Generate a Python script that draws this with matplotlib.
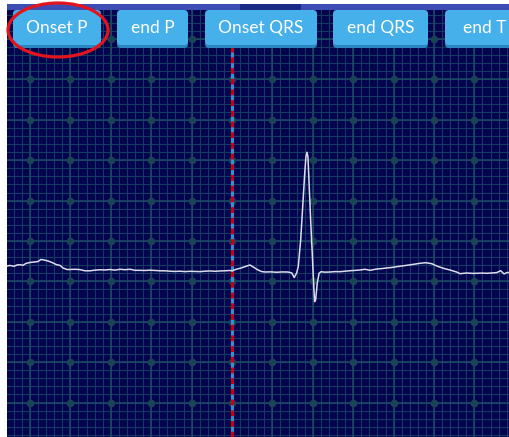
import matplotlib
matplotlib.use("Agg")
import matplotlib.pyplot as plt
from matplotlib.patches import FancyBboxPatch, Ellipse, Rectangle
import numpy as np

# ---- ECG data (time in s, amplitude in mV) ----
time_s = [-0.114, -0.099, -0.079, -0.064, -0.050, -0.035, -0.020, 0.000, 0.020, 0.040,
          0.054, 0.069, 0.089, 0.109, 0.129, 0.149, 0.163, 0.183, 0.198, 0.223,
          0.248, 0.272, 0.297, 0.322, 0.347, 0.371, 0.396, 0.421, 0.446, 0.470,
          0.495, 0.520, 0.545, 0.569, 0.594, 0.619, 0.644, 0.668, 0.693, 0.718,
          0.743, 0.767, 0.792, 0.817, 0.842, 0.866, 0.891, 0.916, 0.941, 0.965,
          0.990, 1.000, 1.020, 1.040, 1.064, 1.089, 1.105, 1.129, 1.146, 1.163,
          1.190, 1.221, 1.250, 1.277, 1.296, 1.308, 1.320, 1.328, 1.340, 1.350,
          1.360, 1.366, 1.371, 1.376, 1.383, 1.390, 1.398, 1.404, 1.409, 1.414,
          1.422, 1.431, 1.441, 1.460, 1.485, 1.510, 1.535, 1.560, 1.584, 1.610,
          1.634, 1.658, 1.683, 1.716, 1.740, 1.766, 1.790, 1.815, 1.840, 1.865,
          1.898, 1.931, 1.959, 1.989, 2.013, 2.046, 2.079, 2.112, 2.129, 2.162,
          2.190, 2.211, 2.240, 2.261, 2.290, 2.310, 2.330, 2.347, 2.360, 2.371]
amp_mv = [0.191, 0.197, 0.187, 0.203, 0.207, 0.199, 0.222, 0.234, 0.240, 0.246,
          0.271, 0.265, 0.252, 0.234, 0.209, 0.197, 0.166, 0.147, 0.147, 0.150,
          0.145, 0.131, 0.131, 0.139, 0.144, 0.141, 0.147, 0.139, 0.150, 0.144,
          0.150, 0.137, 0.137, 0.135, 0.139, 0.135, 0.131, 0.131, 0.126, 0.123,
          0.126, 0.121, 0.125, 0.123, 0.121, 0.126, 0.129, 0.125, 0.129, 0.131,
          0.135, 0.129, 0.150, 0.162, 0.182, 0.203, 0.178, 0.141, 0.122, 0.116,
          0.118, 0.113, 0.117, 0.116, 0.104, 0.048, 0.104, 0.182, 0.512, 0.925,
          1.338, 1.543, 1.598, 1.543, 1.131, 0.723, 0.306, -0.024, -0.251, -0.230,
          -0.024, 0.100, 0.120, 0.114, 0.116, 0.121, 0.120, 0.126, 0.132, 0.136,
          0.141, 0.150, 0.137, 0.153, 0.158, 0.166, 0.172, 0.182, 0.190, 0.199,
          0.211, 0.224, 0.231, 0.219, 0.191, 0.162, 0.141, 0.116, 0.095, 0.104,
          0.099, 0.100, 0.103, 0.100, 0.105, 0.108, 0.132, 0.092, 0.108, 0.110]

marker_time = 1.0  # onset marker (s)

button_labels = ["Onset P", "end P", "Onset QRS", "end QRS", "end T"]

# ---- layout ----
W, H = 509, 437
fig = plt.figure(figsize=(W / 100, H / 100), dpi=100)
fig.patch.set_facecolor("white")

panel_left, panel_top = 7, 4
ax = fig.add_axes([panel_left / W, 0, (W - panel_left) / W, (H - panel_top) / H])
bg = "#03034e"
ax.set_facecolor(bg)

x0 = -0.1139
x1 = 2.3713
y0 = -1.926
y1 = 3.433
ax.set_xlim(x0, x1)
ax.set_ylim(y0, y1)

minor_c = "#143a62"
major_c = "#1c4a64"
for t in np.arange(-0.08, x1, 0.04):
    ax.axvline(t, color=minor_c, lw=0.8, zorder=1)
for v in np.arange(-1.9, y1, 0.1):
    ax.axhline(v, color=minor_c, lw=0.8, zorder=1)
maj_t = np.arange(0.0, x1, 0.2)
maj_v = np.arange(-1.5, y1, 0.5)
for t in maj_t:
    ax.axvline(t, color=major_c, lw=1.1, zorder=2)
for v in maj_v:
    ax.axhline(v, color=major_c, lw=1.1, zorder=2)
TT, VV = np.meshgrid(maj_t, maj_v)
ax.scatter(TT.ravel(), VV.ravel(), s=30, color="#1a4456", zorder=3, linewidths=0)

# onset marker line
ax.axvline(marker_time, color="#3a8fd0", lw=2.2, zorder=4)
ax.axvline(marker_time, color="#c4001c", lw=2.2, ls=(0, (1.9, 1.6)), zorder=5)

# ECG trace
ax.plot(time_s, amp_mv, color="#dcdcea", lw=1.1, zorder=6, solid_joinstyle="round")

for s in ax.spines.values():
    s.set_visible(False)
ax.set_xticks([])
ax.set_yticks([])

# ---- UI overlay ----
ui = fig.add_axes([0, 0, 1, 1])
ui.set_xlim(0, W)
ui.set_ylim(H, 0)
ui.axis("off")
ui.patch.set_alpha(0)

ui.add_patch(Rectangle((panel_left, 4), W - panel_left, 6, color="#3d4db3", lw=0, zorder=1))
ui.add_patch(Rectangle((240, 4), 61, 6, color="#1b2a85", lw=0, zorder=2))

btn_x = [13, 117, 205, 333, 445]
btn_w = [88, 71, 112, 95, 80]
for lbl, bx, bw in zip(button_labels, btn_x, btn_w):
    ui.add_patch(FancyBboxPatch((bx, 13), bw, 35, boxstyle="round,pad=0,rounding_size=4",
                                fc="#2b86bf", ec="none", zorder=3))
    ui.add_patch(FancyBboxPatch((bx, 10), bw, 35, boxstyle="round,pad=0,rounding_size=4",
                                fc="#46b0ea", ec="none", zorder=4))
    ui.text(bx + bw / 2, 28, lbl, color="white", fontsize=12.5, family=["Lato", "DejaVu Sans"],
            ha="center", va="center", zorder=5)

ui.add_patch(Ellipse((58, 30), 100, 54, fill=False, ec="#e3141c", lw=2.3, zorder=6))

fig.savefig("out.png", dpi=100, facecolor="white")
